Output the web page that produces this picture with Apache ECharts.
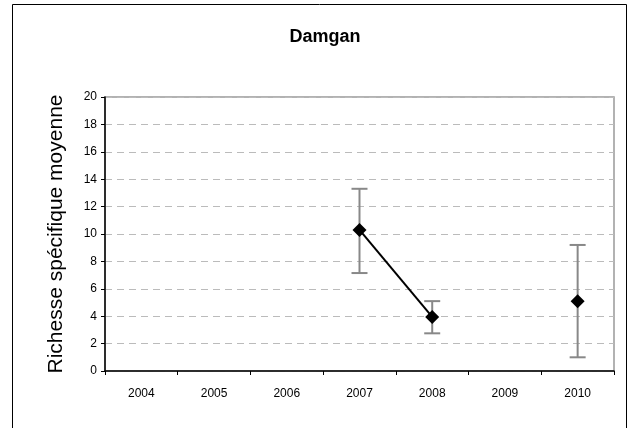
<!DOCTYPE html>
<html><head><meta charset="utf-8">
<script src="https://cdn.jsdelivr.net/npm/echarts@6/dist/echarts.min.js"></script>
<style>html,body{margin:0;padding:0;background:#fff}#c{width:637px;height:428px}</style>
</head><body><div id="c"></div>
<script>
const years = ['2004','2005','2006','2007','2008','2009','2010'];
const meanValues = [null, null, null, 10.3, 3.95, null, 5.1];
const errHigh = [null, null, null, 13.3, 5.1, null, 9.2];
const errLow = [null, null, null, 7.15, 2.75, null, 1.0];
const yTicks = [0, 2, 4, 6, 8, 10, 12, 14, 16, 18, 20];

const errData = years.map((y, i) => errHigh[i] == null ? null : [i, errLow[i], errHigh[i]]).filter(d => d);

const chart = echarts.init(document.getElementById('c'));
chart.setOption({
  animation: false,
  backgroundColor: '#fff',
  textStyle: { fontFamily: 'Liberation Sans, Arial, sans-serif' },
  title: {
    text: 'Damgan', left: 320, top: 23, textAlign: 'center',
    textStyle: { fontSize: 18, fontWeight: 'bold', color: '#000', fontFamily: 'Liberation Sans' }
  },
  graphic: [{
    type: 'rect', shape: { x: 12.5, y: 4.5, width: 614, height: 440 },
    style: { fill: 'none', stroke: '#000', lineWidth: 1 }, z: -1
  }],
  grid: { left: 105, top: 97, width: 509, height: 274, show: true, borderColor: '#999', borderWidth: 1.5 },
  xAxis: {
    type: 'category', data: years, boundaryGap: true,
    axisLine: { lineStyle: { color: '#000', width: 1.5 } },
    axisTick: { show: true, length: 4, lineStyle: { color: '#000' } },
    axisLabel: { color: '#000', fontSize: 12, margin: 17 }
  },
  yAxis: {
    type: 'value', min: yTicks[0], max: yTicks[yTicks.length - 1], interval: 2,
    name: 'Richesse spécifique moyenne', nameLocation: 'middle', nameGap: 38,
    nameTextStyle: { fontSize: 21, color: '#000' },
    axisLine: { show: true, lineStyle: { color: '#000', width: 1.5 } },
    axisTick: { show: true, length: 4, lineStyle: { color: '#000' } },
    axisLabel: { color: '#000', fontSize: 12, margin: 8 },
    splitLine: { lineStyle: { color: '#bbb', type: [7, 5], width: 1 } }
  },
  series: [
    {
      type: 'custom', data: errData, z: 2,
      renderItem: function (params, api) {
        const x = api.value(0);
        const lo = api.coord([x, api.value(1)]);
        const hi = api.coord([x, api.value(2)]);
        const hw = 8;
        const st = { stroke: '#888', lineWidth: 2 };
        return { type: 'group', children: [
          { type: 'line', shape: { x1: lo[0], y1: lo[1], x2: hi[0], y2: hi[1] }, style: st },
          { type: 'line', shape: { x1: lo[0] - hw, y1: lo[1], x2: lo[0] + hw, y2: lo[1] }, style: st },
          { type: 'line', shape: { x1: hi[0] - hw, y1: hi[1], x2: hi[0] + hw, y2: hi[1] }, style: st }
        ]};
      }
    },
    {
      type: 'line', data: meanValues, z: 3, connectNulls: false,
      symbol: 'diamond', symbolSize: 14, showSymbol: true, showAllSymbol: true,
      lineStyle: { color: '#000', width: 2 },
      itemStyle: { color: '#000' }
    }
  ]
});
</script></body></html>
